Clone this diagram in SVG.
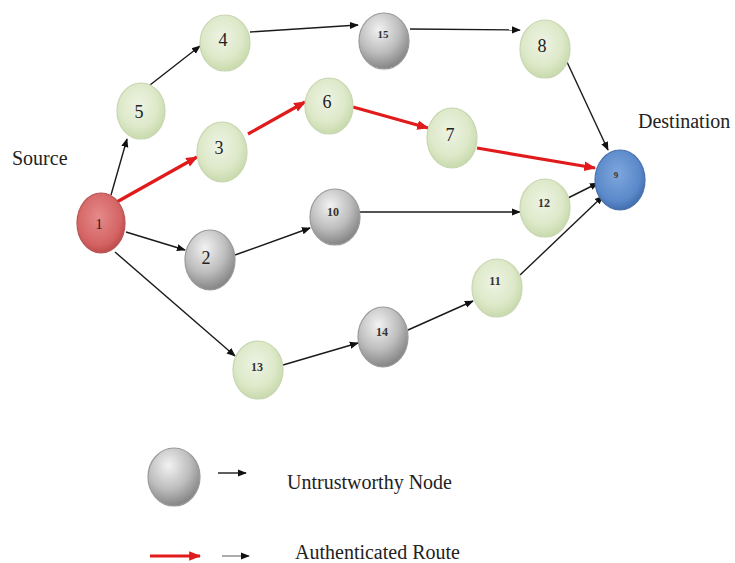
<svg xmlns="http://www.w3.org/2000/svg" width="735" height="563" viewBox="0 0 735 563">
<defs>
<radialGradient id="gGreen" cx="45%" cy="40%" r="65%">
<stop offset="0" stop-color="#eef3e4"/><stop offset="0.6" stop-color="#dde9c9"/><stop offset="1" stop-color="#c4d7a6"/>
</radialGradient>
<radialGradient id="gGray" cx="40%" cy="30%" r="75%">
<stop offset="0" stop-color="#f2f2f2"/><stop offset="0.55" stop-color="#bdbdbd"/><stop offset="1" stop-color="#7c7c7c"/>
</radialGradient>
<radialGradient id="gRed" cx="45%" cy="40%" r="65%">
<stop offset="0" stop-color="#e58a8a"/><stop offset="0.7" stop-color="#d56464"/><stop offset="1" stop-color="#b84444"/>
</radialGradient>
<radialGradient id="gBlue" cx="45%" cy="40%" r="65%">
<stop offset="0" stop-color="#7ea7dd"/><stop offset="0.7" stop-color="#5a88c9"/><stop offset="1" stop-color="#3c66a6"/>
</radialGradient>
<marker id="ab" viewBox="0 0 10 10" refX="9" refY="5" markerWidth="9" markerHeight="9" markerUnits="userSpaceOnUse" orient="auto">
<path d="M0,1 L10,5 L0,9 Z" fill="#111"/>
</marker>
<marker id="ar" viewBox="0 0 10 10" refX="9" refY="5" markerWidth="12" markerHeight="12" markerUnits="userSpaceOnUse" orient="auto">
<path d="M0,1 L10,5 L0,9 Z" fill="#e11b1b"/>
</marker>
</defs>
<style>
.g{fill:url(#gGreen);stroke:#c8d6b2;stroke-width:1.2}
.y{fill:url(#gGray);stroke:#9a9a9a;stroke-width:1.2}
.r{fill:url(#gRed);stroke:#b85555;stroke-width:1.2}
.b{fill:url(#gBlue);stroke:#4a72ad;stroke-width:1.2}
.e{stroke:#1a1a1a;stroke-width:1.4;fill:none;marker-end:url(#ab)}
.er{stroke:#e11b1b;stroke-width:3.2;fill:none;marker-end:url(#ar)}
text{font-family:"Liberation Serif","Times New Roman",serif;fill:#222}
.n{font-size:18px;text-anchor:middle}
.s{font-size:12px;text-anchor:middle;font-weight:bold;fill:#333}
.l{font-size:20px}
</style>
<g id="connectors">
<line class="e" x1="111" y1="195" x2="127" y2="139"/>
<line class="e" x1="150" y1="85" x2="200" y2="46"/>
<line class="e" x1="250" y1="32" x2="358" y2="25"/>
<line class="e" x1="410" y1="29" x2="520" y2="30"/>
<line class="e" x1="567" y1="62" x2="608" y2="150"/>
<line class="er" x1="115" y1="203" x2="197" y2="157"/>
<line class="er" x1="248" y1="134" x2="305" y2="102"/>
<line class="er" x1="353" y1="107" x2="428" y2="128"/>
<line class="er" x1="477" y1="148" x2="595" y2="168"/>
<line class="e" x1="126" y1="232" x2="185" y2="250"/>
<line class="e" x1="235" y1="255" x2="310" y2="228"/>
<line class="e" x1="360" y1="212" x2="520" y2="212"/>
<line class="e" x1="568" y1="198" x2="598" y2="183"/>
<line class="e" x1="520" y1="275" x2="603" y2="196"/>
<line class="e" x1="115" y1="252" x2="235" y2="356"/>
<line class="e" x1="283" y1="365" x2="358" y2="343"/>
<line class="e" x1="408" y1="330" x2="473" y2="301"/>
</g>
<g id="node1"><ellipse class="r" cx="101" cy="223" rx="24" ry="30"/><text class="n" x="99" y="229" style="font-size:15px">1</text></g>
<g id="node2"><ellipse class="y" cx="210" cy="260" rx="25" ry="30"/><text class="n" x="206" y="264">2</text></g>
<g id="node3"><ellipse class="g" cx="222" cy="152" rx="25" ry="30"/><text class="n" x="219" y="154">3</text></g>
<g id="node4"><ellipse class="g" cx="225" cy="43" rx="25" ry="28"/><text class="n" x="223" y="46">4</text></g>
<g id="node5"><ellipse class="g" cx="141" cy="111" rx="24" ry="28"/><text class="n" x="139" y="118">5</text></g>
<g id="node6"><ellipse class="g" cx="329" cy="106" rx="24" ry="28"/><text class="n" x="327" y="108">6</text></g>
<g id="node7"><ellipse class="g" cx="452" cy="138" rx="25" ry="30"/><text class="n" x="450" y="141">7</text></g>
<g id="node8"><ellipse class="g" cx="545" cy="49" rx="25" ry="29"/><text class="n" x="542" y="52">8</text></g>
<g id="node9"><ellipse class="b" cx="620" cy="180" rx="25" ry="30"/><text class="s" x="616" y="178" style="font-size:9px">9</text></g>
<g id="node10"><ellipse class="y" cx="335" cy="217" rx="25" ry="28"/><text class="s" x="333" y="216">10</text></g>
<g id="node11"><ellipse class="g" cx="497" cy="288" rx="25" ry="29"/><text class="s" x="495" y="285">11</text></g>
<g id="node12"><ellipse class="g" cx="545" cy="208" rx="25" ry="29"/><text class="s" x="544" y="207">12</text></g>
<g id="node13"><ellipse class="g" cx="258" cy="370" rx="25" ry="29"/><text class="s" x="257" y="371">13</text></g>
<g id="node14"><ellipse class="y" cx="383" cy="337" rx="25" ry="30"/><text class="s" x="382" y="336">14</text></g>
<g id="node15"><ellipse class="y" cx="384" cy="41" rx="25" ry="28"/><text class="s" x="383" y="38" style="font-size:11px">15</text></g>
<g id="labels">
<text class="l" x="12" y="165">Source</text>
<text class="l" x="638" y="128">Destination</text>
</g>
<g id="legend">
<ellipse class="y" cx="174" cy="477" rx="26" ry="29"/>
<line class="e" x1="218" y1="473" x2="246" y2="473"/>
<text class="l" x="287" y="489">Untrustworthy Node</text>
<line class="er" x1="150" y1="556" x2="200" y2="556"/>
<line class="e" x1="222" y1="556" x2="249" y2="556" style="stroke:#888"/>
<text class="l" x="295" y="559">Authenticated Route</text>
</g>
</svg>
